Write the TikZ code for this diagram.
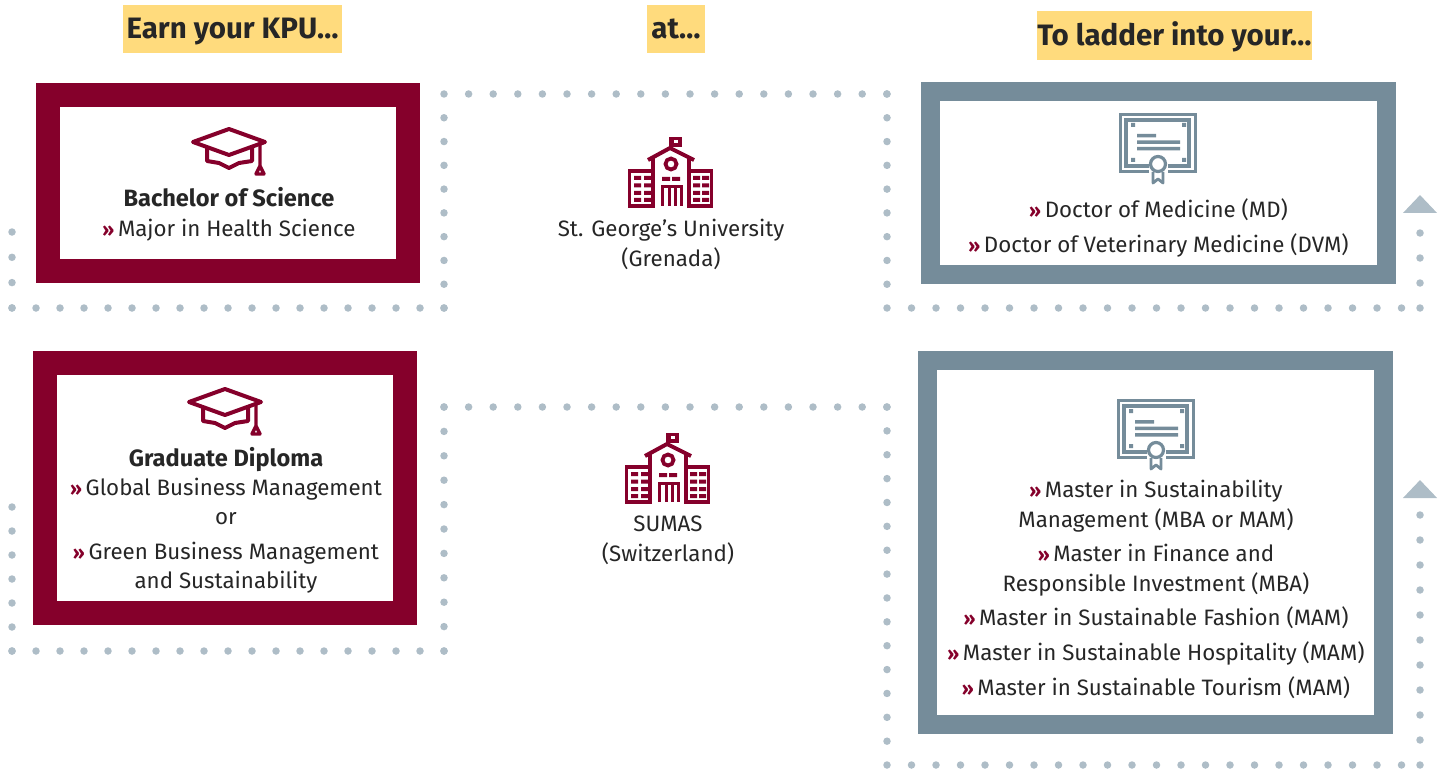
\documentclass[tikz,border=0pt]{standalone}
\usepackage{fontspec}
\setmainfont{Fira Sans}
\usetikzlibrary{arrows.meta}
\definecolor{kpured}{HTML}{85002B}
\definecolor{kpuslate}{HTML}{758C9A}
\definecolor{kpudots}{HTML}{AEBDC7}
\definecolor{kpuyellow}{HTML}{FFDB7D}
\definecolor{kputext}{HTML}{262626}
\newcommand{\mk}{{\color{kpured}\fontsize{19}{30}\selectfont\bfseries »}\,}
\newcommand{\bighead}[1]{{\fontsize{23.6}{30}\selectfont\bfseries #1}}
\tikzset{
  heading/.style={fill=kpuyellow,text=kputext,font=\fontsize{29.5}{32}\selectfont\bfseries,inner sep=0pt,minimum height=48pt,text height=30pt,text depth=10pt},
  body/.style={text=kputext,align=center,inner sep=0pt,font=\fontsize{22.3}{30}\selectfont},
  redbox/.style={draw=kpured,line width=24pt,fill=white,inner sep=0pt},
  greybox/.style={draw=kpuslate,line width=19pt,fill=white,inner sep=0pt},
  dotline/.style={draw=kpudots,line width=7.5pt,line cap=round},
  gradcap/.pic={
    \draw[kpured,line width=4pt,line join=round,fill=white] (-36,0) -- (0,-13) -- (36,0) -- (0,13) -- cycle;
    \draw[kpured,line width=4pt,line join=round] (-22,6) -- (-22,19) -- (-10,21) -- (0,26) -- (10,21) -- (23,19) -- (23,6);
    \draw[kpured,line width=3.4pt,line join=round] (31,1) -- (31,24) -- (27,32) -- (35,32) -- (31,24);
  },
  schoolhouse/.pic={
    \begin{scope}[kpured,line width=3.6pt]
    \draw (-41.5,-1) rectangle (-18,34);
    \draw (18,-1) rectangle (40.5,34);
    \draw (-18,-14) -- (-18,34) (18,-14) -- (18,34);
    \draw[line width=4pt] (-23,-12) -- (-1,-24) -- (23,-12);
    \draw[line width=2.4pt] (-1,-24) -- (-1,-35);
    \fill (-1,-35) rectangle (11,-25);
    \fill[white] (3,-32) rectangle (7,-29);
    \draw[line width=3.8pt] (0,-8) circle (5.5);
    \fill (-9,5) rectangle (-1,9) (1,5) rectangle (9,9);
    \draw[line width=3pt] (-9,34) -- (-9,15) -- (10,15) -- (10,34) (-2,15) -- (-2,34) (4,15) -- (4,34);
    \foreach \wy in {4,11.5,19,26} {
      \fill (-37,\wy) rectangle (-30,\wy+4) (-27,\wy) rectangle (-20,\wy+4);
      \fill (22,\wy) rectangle (29,\wy+4) (31,\wy) rectangle (38,\wy+4);
    }
    \end{scope}
  },
  certificate/.pic={
    \begin{scope}[kpuslate]
    \draw[line width=3.4pt] (-9,28.5) -- (-37.5,28.5) -- (-37.5,-28.5) -- (37.5,-28.5) -- (37.5,28.5) -- (10,28.5);
    \draw[line width=3.4pt] (-9,23) -- (-32,23) -- (-32,-23) -- (31,-23) -- (31,23) -- (10,23);
    \fill (-27,-20) rectangle (-23,-16) (24,-20) rectangle (28,-16);
    \fill (-27,15) rectangle (-23,19) (24,15) rectangle (28,19);
    \fill (-21,-9) rectangle (-2,-5.5) (-21,-2.5) rectangle (22,1) (-21,4) rectangle (22,7.5);
    \draw[line width=3.2pt,fill=white] (0,21) circle (7.5);
    \draw[line width=2.8pt,line join=round] (-5,29) -- (-5,40) -- (0,36) -- (5,40) -- (5,29);
    \end{scope}
  }
}
\begin{document}
\begin{tikzpicture}[x=1pt,y=-1pt]
\useasboundingbox (0,0) rectangle (1445,770);
% dotted runs
\coordinate (a1) at (12,232);
\coordinate (a2) at (12,308);
\coordinate (a3) at (444,308);
\coordinate (a4) at (444,94);
\coordinate (a5) at (887,94);
\coordinate (a6) at (887,308);
\coordinate (a7) at (1420,308);
\coordinate (a8) at (1420,195);
\coordinate (b1) at (12,507);
\coordinate (b2) at (12,651);
\coordinate (b3) at (444,651);
\coordinate (b4) at (444,407);
\coordinate (b5) at (887,407);
\coordinate (b6) at (887,765);
\coordinate (b7) at (1420,765);
\coordinate (b8) at (1420,480);
\foreach \from/\to/\gap in {a1/a2/25.3,a2/a3/24,a3/a4/23.78,a4/a5/24.6,a5/a6/23.78,a6/a7/24.5,
  b1/b2/24,b2/b3/24,b3/b4/24.4,b4/b5/24.6,b5/b6/23.87,b6/b7/24.5}
  \draw[dotline,dash pattern=on 0pt off \gap pt] (\from) -- (\to);
\draw[dotline,dash pattern=on 0pt off 25pt,-{Triangle[width=33pt,length=18pt]}] (a7) -- (a8);
\draw[dotline,dash pattern=on 0pt off 25pt,-{Triangle[width=33pt,length=18pt]}] (b7) -- (b8);
% headings
\node[heading,minimum width=219pt] (earn) at (232.5,29) {Earn your KPU…};
\node[heading,minimum width=58pt] (at) at (676,29) {at…};
\node[heading,minimum width=275pt,minimum height=49pt] (ladder) at (1174.5,35.5) {To ladder into your…};
% boxes
\node[redbox,minimum width=360pt,minimum height=176pt] (bsc) at (228,183) {};
\node[redbox,minimum width=360pt,minimum height=250pt] (gdip) at (225,488) {};
\node[greybox,minimum width=456pt,minimum height=182pt] (drs) at (1158.5,183) {};
\node[greybox,minimum width=456pt,minimum height=364pt] (masters) at (1155.5,542.5) {};
% icons
\pic at (229,142) {gradcap};
\pic at (225,402) {gradcap};
\pic at (671,172) {schoolhouse};
\pic at (668,468) {schoolhouse};
\pic at (1158,143) {certificate};
\pic at (1156,429) {certificate};
% texts
\node[body] (bsctext) at (229,214) {\bighead{Bachelor of Science}\\\mk Major in Health Science};
\node[body] (gdiptext) at (226,520) {\bighead{Graduate Diploma}\\[-1pt]\mk Global Business Management\\[-1pt]or\\[5pt]\mk Green Business Management\\[-1pt]and Sustainability};
\node[body] (sgu) at (671,244) {St. George’s University\\(Grenada)};
\node[body] (sumas) at (668,540) {SUMAS\\(Switzerland)};
\node[body] (drstext) at (1158.5,227.5) {\mk Doctor of Medicine (MD)\\[5pt]\mk Doctor of Veterinary Medicine (DVM)};
\node[body] (masterstext) at (1156,589) {\mk Master in Sustainability\\Management (MBA or MAM)\\[4pt]\mk Master in Finance and\\Responsible Investment (MBA)\\[4pt]\mk Master in Sustainable Fashion (MAM)\\[5pt]\mk Master in Sustainable Hospitality (MAM)\\[5pt]\mk Master in Sustainable Tourism (MAM)};
\end{tikzpicture}
\end{document}
